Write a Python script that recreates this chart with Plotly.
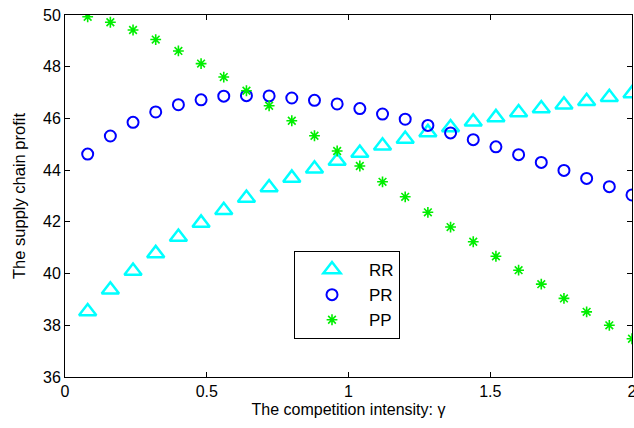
import plotly.graph_objects as go

gamma = [0.08, 0.16, 0.24, 0.32, 0.40, 0.48, 0.56, 0.64, 0.72, 0.80, 0.88, 0.96, 1.04,
         1.12, 1.20, 1.28, 1.36, 1.44, 1.52, 1.60, 1.68, 1.76, 1.84, 1.92, 2.00]

rr = [38.53, 39.37, 40.10, 40.78, 41.41, 41.96, 42.45, 42.92, 43.33, 43.70, 44.05, 44.35, 44.66,
      44.94, 45.20, 45.46, 45.65, 45.87, 46.04, 46.23, 46.38, 46.53, 46.66, 46.82, 46.96]

pr = [44.62, 45.32, 45.85, 46.25, 46.53, 46.72, 46.86, 46.88, 46.87, 46.79, 46.70, 46.56, 46.38,
      46.17, 45.97, 45.73, 45.44, 45.18, 44.90, 44.60, 44.30, 43.99, 43.68, 43.36, 43.04]

pp = [49.93, 49.72, 49.42, 49.05, 48.61, 48.12, 47.60, 47.07, 46.49, 45.91, 45.33, 44.74, 44.16,
      43.55, 42.97, 42.37, 41.80, 41.23, 40.67, 40.13, 39.59, 39.04, 38.52, 38.00, 37.48]

x_ticks = [0, 0.5, 1, 1.5, 2]
x_tick_labels = ["0", "0.5", "1", "1.5", "2"]
y_ticks = [36, 38, 40, 42, 44, 46, 48, 50]
y_tick_labels = ["36", "38", "40", "42", "44", "46", "48", "50"]

FONT = "Liberation Sans, Arial, Helvetica, sans-serif"

fig = go.Figure()
fig.add_trace(go.Scatter(
    x=gamma, y=rr, mode="markers", name="RR", legendgroup="a",
    marker=dict(symbol="triangle-up-open", size=15, color="#00FFFF",
                line=dict(width=2.5, color="#00FFFF"))))
fig.add_trace(go.Scatter(
    x=gamma, y=pr, mode="markers", name="PR", legendgroup="b",
    marker=dict(symbol="circle-open", size=11, color="#0000FF",
                line=dict(width=2, color="#0000FF"))))
fig.add_trace(go.Scatter(
    x=gamma, y=pp, mode="markers", name="PP", legendgroup="c",
    marker=dict(symbol="asterisk-open", size=9, color="#00EE00",
                line=dict(width=1.6, color="#00EE00"))))

axis_common = dict(
    showline=True, linecolor="black", linewidth=1, mirror="ticks",
    ticks="inside", ticklen=5, tickwidth=1, tickcolor="black",
    showgrid=False, zeroline=False, ticklabeloverflow="allow",
    tickfont=dict(family=FONT, size=16, color="black"),
)

fig.update_xaxes(
    range=[0, 2], tickvals=x_ticks, ticktext=x_tick_labels,
    title=dict(text="The competition intensity: γ", font=dict(family=FONT, size=16, color="black"),
               standoff=4),
    **axis_common)
fig.update_yaxes(
    range=[36, 50], tickvals=y_ticks, ticktext=y_tick_labels,
    title=dict(text="The supply chain profit", font=dict(family=FONT, size=16.5, color="black"),
               standoff=13),
    **axis_common)

fig.update_layout(
    width=634, height=428,
    margin=dict(l=65, r=2, t=15, b=51, autoexpand=False),
    paper_bgcolor="white", plot_bgcolor="white",
    font=dict(family=FONT, size=16, color="black"),
    showlegend=True,
    legend=dict(
        x=(294 - 65) / 567, y=(377 - 251) / 362, xanchor="left", yanchor="top",
        bgcolor="white", bordercolor="black", borderwidth=1,
        font=dict(family=FONT, size=17, color="black"),
        itemwidth=64, tracegroupgap=0,
    ),
)

fig.write_html(
    "out.html",
    config={"displayModeBar": False},
    post_script="document.body.style.margin='0';document.body.style.overflow='hidden';",
)
